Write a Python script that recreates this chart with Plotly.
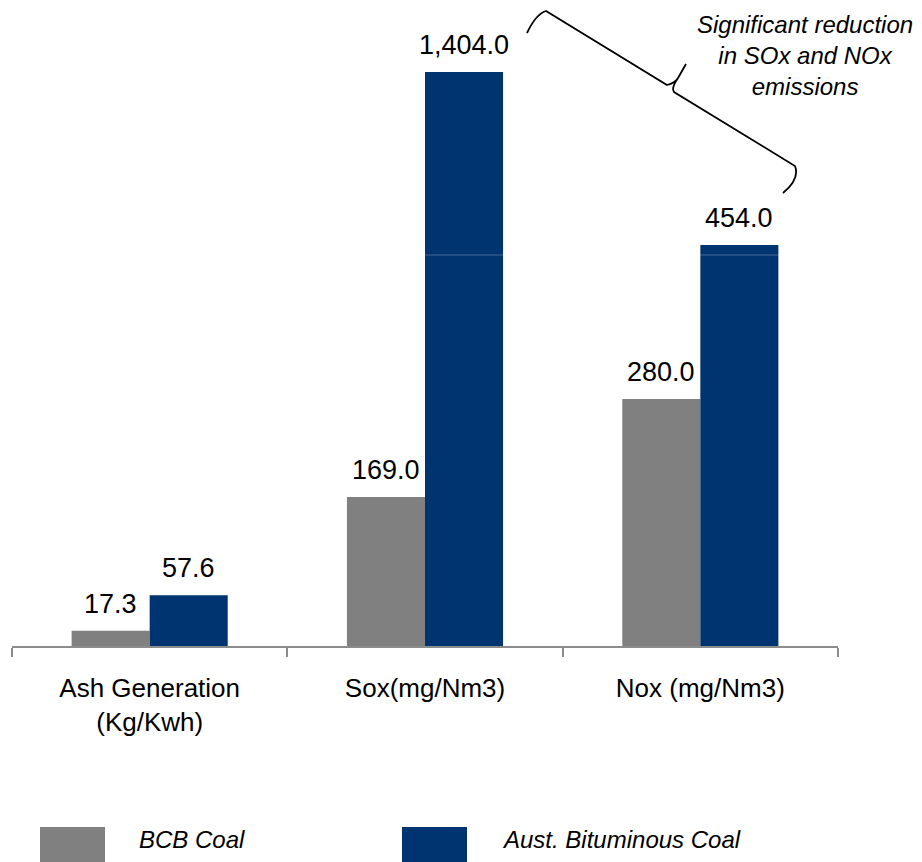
import plotly.graph_objects as go

# ---- data ----
categories = ["Ash Generation<br>(Kg/Kwh)", "Sox(mg/Nm3)", "Nox (mg/Nm3)"]
bcb_coal = [17.3, 169.0, 280.0]
aust_coal = [57.6, 1404.0, 454.0]
series_names = ["BCB Coal", "Aust. Bituminous Coal"]
note_text = "Significant reduction<br>in SOx and NOx<br>emissions"

GRAY = "#808080"
BLUE = "#003471"
FONT = "Liberation Sans, Arial, Helvetica, sans-serif"

OFF = 8  # page body margin
W, H = 914, 854
PL, PR, PT, PB = 12, 838, 8, 646  # plot area in screen pixels
L, T = PL - OFF, PT - OFF
R = W - (PR - OFF)
B = H - (PB - OFF)
PW, PH = PR - PL, PB - PT
BREAK_PX = 255  # screen row of axis break

def px_x(p):
    return (p - PL) / PW

def px_y(p):
    return (PB - p) / PH

brk = px_y(BREAK_PX)
lower_range = [0, 443.3]
upper_range = [399, 1755]

fig = go.Figure()
for name, vals, col in [(series_names[0], bcb_coal, GRAY), (series_names[1], aust_coal, BLUE)]:
    for ya in ["y", "y2"]:
        fig.add_trace(go.Bar(
            x=categories, y=vals, name=name, marker=dict(color=col, line=dict(width=0)),
            xaxis="x" if ya == "y" else "x2", yaxis=ya, showlegend=False,
            offsetgroup=name, hoverinfo="skip"))

fig.update_layout(
    width=W, height=H,
    margin=dict(l=L, r=R, t=T, b=B),
    paper_bgcolor="white", plot_bgcolor="white",
    barmode="group", bargap=0.433, bargroupgap=0,
    font=dict(family=FONT, color="black", size=26),
    showlegend=False,
    xaxis=dict(domain=[0, 1], anchor="y", type="category", showline=True,
               linecolor="#8c8c8c", linewidth=2, ticks="outside", tickson="boundaries",
               ticklen=9, tickwidth=2, tickcolor="#8c8c8c", showgrid=False,
               tickfont=dict(size=26, family=FONT, color="black"), ticklabelstandoff=18),
    xaxis2=dict(domain=[0, 1], anchor="y2", matches="x", type="category", visible=False),
    yaxis=dict(domain=[0, brk], range=lower_range, visible=False),
    yaxis2=dict(domain=[brk, 1], range=upper_range, visible=False),
)

# value labels
annotations = []
for vals in [bcb_coal, aust_coal]:
    for i, v in enumerate(vals):
        yref = "y" if v <= lower_range[1] else "y2"
        annotations.append(dict(
            x=categories[i], y=v, xref="x" if yref == "y" else "x2", yref=yref,
            text=f"{v:,.1f}", showarrow=False, yanchor="bottom", yshift=10,
            xshift=-39 if vals is bcb_coal else 39,
            font=dict(size=27, family=FONT, color="black")))

# note text
annotations.append(dict(
    x=px_x(805), y=px_y(55), xref="paper", yref="paper", text="<i>" + note_text + "</i>",
    showarrow=False, xanchor="center", yanchor="middle", align="center",
    font=dict(size=24, family=FONT, color="black")))

# legend (custom)
leg = [(40, 137, GRAY, series_names[0]), (402, 500, BLUE, series_names[1])]
shapes = []
for bx, tx, col, nm in leg:
    shapes.append(dict(type="rect", xref="paper", yref="paper",
                       x0=px_x(bx), x1=px_x(bx + 65), y0=px_y(827), y1=px_y(866),
                       fillcolor=col, line=dict(width=0)))
    annotations.append(dict(x=px_x(tx), y=px_y(839), xref="paper", yref="paper",
                            text="<i>" + nm + "</i>", showarrow=False,
                            xanchor="left", yanchor="middle",
                            font=dict(size=24, family=FONT, color="black")))

# break line across bars
shapes.append(dict(type="line", xref="paper", yref="paper", x0=0, x1=1, y0=brk, y1=brk,
                   line=dict(color="rgba(255,255,255,0.25)", width=1), layer="above"))

# curly brace
pts = [("M", [(527, 33)]), ("Q", [(536, 14), (546, 11)]), ("L", [(667, 85)]),
       ("Q", [(675, 83), (678, 78)]), ("L", [(686, 64)]), ("L", [(678, 78)]),
       ("Q", [(671, 88), (674, 92)]), ("L", [(795, 166)]),
       ("Q", [(800, 179), (783, 193)])]
path = " ".join(cmd + " " + " ".join(f"{px_x(a):.5f},{px_y(b):.5f}" for a, b in p) for cmd, p in pts)
shapes.append(dict(type="path", xref="paper", yref="paper", path=path,
                   line=dict(color="black", width=1.8)))

fig.update_layout(annotations=annotations, shapes=shapes)
fig.write_html("out.html")
